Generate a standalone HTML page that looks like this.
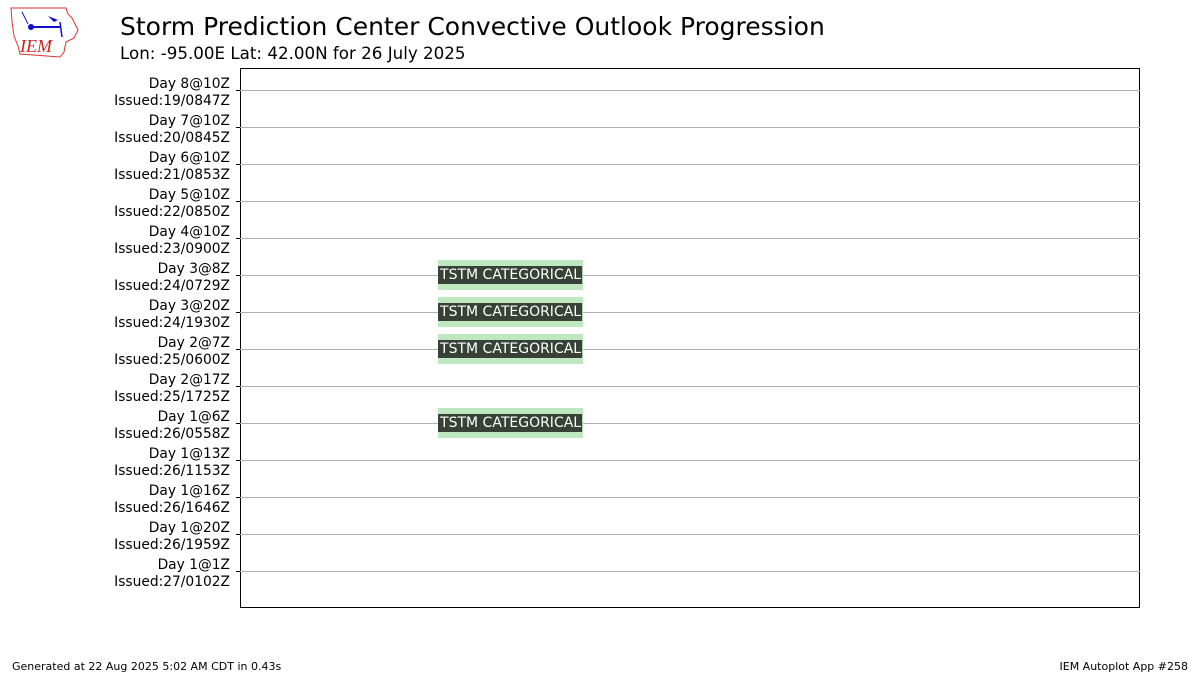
<!DOCTYPE html>
<html><head><meta charset="utf-8"><style>
body{margin:0;background:#fff;font-family:"DejaVu Sans","Liberation Sans",sans-serif;}
#wrap{position:relative;width:1200px;height:675px;overflow:hidden;}
</style></head><body>
<div id="wrap">
<svg id="svg" width="1200" height="675" xmlns="http://www.w3.org/2000/svg">
 <g>
  <path d="M11,8 L66,8 L68,14 L72,18 L78,30 L74,38 L66,42 L64,52 L60,57 L20,54 L18,46 L14,36 L12,22 Z" fill="none" stroke="#d33" stroke-width="1"/>
  <line x1="31" y1="27" x2="60" y2="27" stroke="#11c" stroke-width="2"/>
  <circle cx="31" cy="27" r="3" fill="#11c"/>
  <path d="M48,16 L58,20 L54,22 Z" fill="#11c"/>
  <line x1="60" y1="22" x2="62" y2="37" stroke="#11c" stroke-width="1.5"/>
  <line x1="22" y1="12" x2="28" y2="24" stroke="#11c" stroke-width="1"/>
  <text x="20" y="52" font-family="Liberation Serif,serif" font-style="italic" font-size="18" fill="#c22">IEM</text>
 </g>
 <text x="120" y="35" font-size="25" fill="#000">Storm Prediction Center Convective Outlook Progression</text>
 <text x="120" y="59" font-size="16.7" fill="#000">Lon: -95.00E Lat: 42.00N for 26 July 2025</text>
 <g id="plot"></g>
 <text x="12" y="670" font-size="11" fill="#000">Generated at 22 Aug 2025 5:02 AM CDT in 0.43s</text>
 <text x="1188" y="670" font-size="11" fill="#000" text-anchor="end">IEM Autoplot App #258</text>
</svg>
</div>
<script>
const dayLabels=["Day 8@10Z","Day 7@10Z","Day 6@10Z","Day 5@10Z","Day 4@10Z","Day 3@8Z","Day 3@20Z","Day 2@7Z","Day 2@17Z","Day 1@6Z","Day 1@13Z","Day 1@16Z","Day 1@20Z","Day 1@1Z"];
const issuedLabels=["Issued:19/0847Z","Issued:20/0845Z","Issued:21/0853Z","Issued:22/0850Z","Issued:23/0900Z","Issued:24/0729Z","Issued:24/1930Z","Issued:25/0600Z","Issued:25/1725Z","Issued:26/0558Z","Issued:26/1153Z","Issued:26/1646Z","Issued:26/1959Z","Issued:27/0102Z"];
const outlookRows=[5,6,7,9];
const outlookText=["TSTM CATEGORICAL","TSTM CATEGORICAL","TSTM CATEGORICAL","TSTM CATEGORICAL"];
const outlookStart=[5.28,5.28,5.28,5.28];
const outlookEnd=[9.15,9.15,9.15,9.15];
const xMin=0,xMax=24;
const L=240,R=1140,T=68,B=608;
const NS="http://www.w3.org/2000/svg";
const g=document.getElementById('plot');
const xs=v=>L+(v-xMin)/(xMax-xMin)*(R-L);
const ys=i=>90+i*37;
function mk(t,a){const e=document.createElementNS(NS,t);for(const k in a)e.setAttribute(k,a[k]);g.appendChild(e);return e;}
const frame=mk('rect',{x:L+0.5,y:T+0.5,width:R-L-1,height:B-T-1,fill:'#fff',stroke:'#000','stroke-width':1});


dayLabels.forEach((d,i)=>{
 const y=ys(i);
 const ln=mk('line',{x1:L,x2:R,y1:y+0.5,y2:y+0.5,stroke:'#b0b0b0','stroke-width':1});
 
 
 const tk=mk('line',{x1:L-4,x2:L,y1:y+0.5,y2:y+0.5,stroke:'#000','stroke-width':1});
 
 
 const t1=mk('text',{x:230,y:y-2,'font-size':13.8,'text-anchor':'end',fill:'#000'});
 t1.textContent=d;
 
 
 const t2=mk('text',{x:230,y:y+15,'font-size':13.8,'text-anchor':'end',fill:'#000'});
 t2.textContent=issuedLabels[i];
 
 
});
outlookRows.forEach((r,k)=>{
 const y=ys(r),x0=xs(outlookStart[k]),x1=xs(outlookEnd[k]);
 const bg=mk('rect',{x:x0,y:y-15,width:x1-x0,height:30,fill:'#c0e8c0'});
 
 
 const fg=mk('rect',{x:x0,y:y-9,width:x1-x0-1,height:18,fill:'#374137'});
 
 
 const tx=mk('text',{x:(x0+x1)/2,y:y+4,'font-size':14,'text-anchor':'middle',fill:'#fff'});
 tx.textContent=outlookText[k];
 
 
});
</script>
</body></html>
